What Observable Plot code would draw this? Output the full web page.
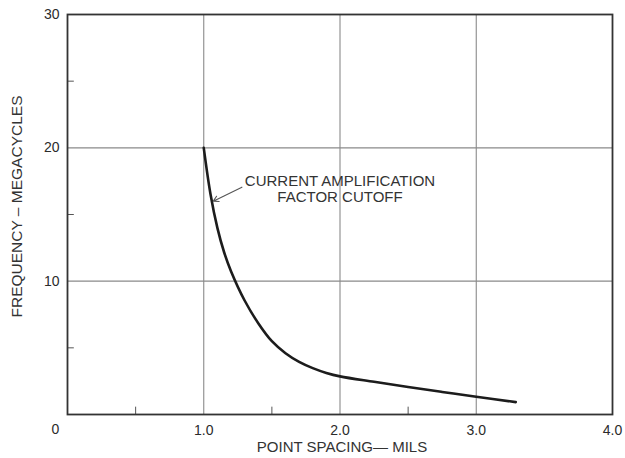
<!DOCTYPE html>
<html><head><meta charset="utf-8">
<script src="https://cdn.jsdelivr.net/npm/d3@7"></script>
<script src="https://cdn.jsdelivr.net/npm/@observablehq/plot@0.6"></script>
<style>html,body{margin:0;padding:0;background:#fff} svg{display:block}</style>
</head><body><div id="chart"></div>
<script>
// Point spacing (mils) vs frequency (megacycles)
const spacing   = [1.0, 1.05, 1.1, 1.15, 1.2, 1.3, 1.4, 1.5, 1.6, 1.7, 1.8, 1.9, 2.0, 2.25, 2.5, 2.75, 3.0, 3.29];
const frequency = [20.0, 16.5, 14.0, 12.15, 10.75, 8.55, 6.85, 5.5, 4.6, 3.95, 3.48, 3.12, 2.86, 2.45, 2.06, 1.69, 1.33, 0.93];

const xTicks = [1, 2, 3, 4];
const xTickLabels = ["1.0", "2.0", "3.0", "4.0"];
const yTicks = [10, 20, 30];
const yTickLabels = ["10", "20", "30"];
const zeroLabel = ["0"];
const xGrid = [1, 2, 3];
const yGrid = [10, 20];
const xMinor = [0.5, 1.5, 2.5];
const yMinor = [5, 15, 25];
const xTitle = ["POINT SPACING\u2014 MILS"];
const yTitle = ["FREQUENCY \u2013 MEGACYCLES"];
const noteText = ["CURRENT AMPLIFICATION\nFACTOR CUTOFF"];
const noteX = [2.0], noteY = [16.9];
const arrowX1 = [1.28], arrowY1 = [17.05], arrowX2 = [1.07], arrowY2 = [16.0];

const data = spacing.map((x, i) => ({x, y: frequency[i]}));
const note = noteText.map((t, i) => ({t, x: noteX[i], y: noteY[i]}));
const arrows = arrowX1.map((x1, i) => ({x1, y1: arrowY1[i], x2: arrowX2[i], y2: arrowY2[i]}));

const chart = Plot.plot({
  width: 625, height: 458,
  marginLeft: 67, marginRight: 13, marginTop: 14, marginBottom: 44,
  x: {domain: [0, 4]},
  y: {domain: [0, 30]},
  style: {fontFamily: "'Liberation Sans', Arial, sans-serif", color: "#2b2b2b", background: "#fff", fontSize: "14px"},
  marks: [
    Plot.gridX(xGrid, {stroke: "#8a8a8a", strokeOpacity: 1, strokeWidth: 1.1}),
    Plot.gridY(yGrid, {stroke: "#8a8a8a", strokeOpacity: 1, strokeWidth: 1.1}),
    Plot.ruleX(xMinor, {y1: 0, y2: 0.55, stroke: "#555", strokeWidth: 1}),
    Plot.ruleY(yMinor, {x1: 0, x2: 0.05, stroke: "#555", strokeWidth: 1}),
    Plot.frame({stroke: "#333", strokeWidth: 1.8}),
    Plot.axisX(xTicks, {tickSize: 0, tickPadding: 11, fontSize: 14, tickFormat: d => xTickLabels[xTicks.indexOf(d)], label: null}),
    Plot.axisY(yTicks, {tickSize: 0, tickPadding: 8, fontSize: 14, tickFormat: d => yTickLabels[yTicks.indexOf(d)], label: null}),
    Plot.text(zeroLabel, {x: 0, y: 0, text: d => d, dx: -12, dy: 15, fontSize: 14}),
    Plot.line(data, {x: "x", y: "y", curve: "catmull-rom", stroke: "#1c1c1c", strokeWidth: 2.6}),
    Plot.arrow(arrows, {x1: "x1", y1: "y1", x2: "x2", y2: "y2", stroke: "#555", strokeWidth: 1.1, headLength: 8}),
    Plot.text(note, {x: "x", y: "y", text: "t", fontSize: 15, lineHeight: 1.05, fill: "#333"}),
    Plot.text(xTitle, {frameAnchor: "bottom", text: d => d, dx: 2, dy: 37, fontSize: 15, fill: "#333"}),
    Plot.text(yTitle, {frameAnchor: "left", textAnchor: "middle", text: d => d, dx: -50, dy: -8, rotate: -90, fontSize: 15.5, fill: "#333"})
  ]
});
document.getElementById("chart").appendChild(chart);
</script>
</body></html>
